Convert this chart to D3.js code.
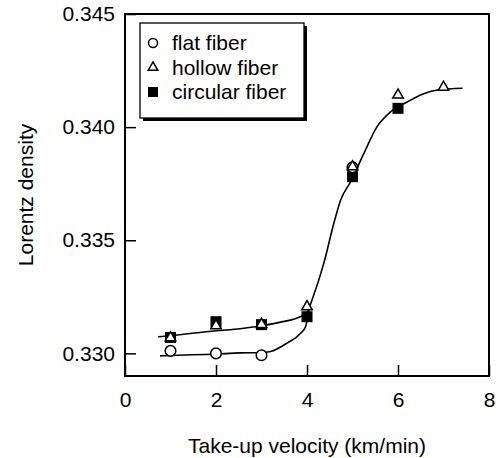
<!DOCTYPE html>
<html>
<head>
<meta charset="utf-8">
<script src="https://cdn.jsdelivr.net/npm/d3@7"></script>
<style>
  body { margin: 0; background: #fff; }
  svg text { font-family: "Liberation Sans", Arial, sans-serif; fill: #000; }
</style>
</head>
<body>
<div id="chart"></div>
<script>

// data
const flatX = [1, 2, 3, 5]
const flatY = [0.33011, 0.33000, 0.32992, 0.33822]
const hollowX = [1, 2, 3, 4, 5, 6, 7]
const hollowY = [0.33069, 0.33122, 0.33128, 0.33206, 0.33825, 0.34142, 0.34176]
const circularX = [1, 2, 3, 4, 5, 6]
const circularY = [0.33070, 0.33140, 0.33127, 0.33162, 0.33781, 0.34083]

// fitted curves (traced)
const upperCurveX = [0.73, 1, 2, 2.53, 3, 3.42, 3.86, 4.0, 4.11, 4.37, 4.59, 4.74, 4.96, 5.25, 5.54, 5.84, 6.21, 6.58, 6.87, 7.42]
const upperCurveY = [0.33073, 0.33078, 0.33100, 0.33109, 0.33122, 0.33138, 0.33163, 0.33180, 0.33236, 0.33399, 0.33575, 0.33678, 0.33759, 0.33884, 0.34002, 0.34068, 0.34112, 0.34149, 0.34164, 0.34172]
const lowerCurveX = [0.77, 2, 2.53, 3, 3.2, 3.56, 3.86, 3.97, 4.05]
const lowerCurveY = [0.32989, 0.32997, 0.33002, 0.33003, 0.33008, 0.33045, 0.33089, 0.33119, 0.33200]

const xTicks = [0, 2, 4, 6, 8]
const yTicks = [0.330, 0.335, 0.340, 0.345]
const legendLabels = ["flat fiber", "hollow fiber", "circular fiber"]

function drawChart() {
  const width = 503
  const height = 458
  const margin = { top: 14, right: 14, bottom: 82, left: 125 }

  const svg = d3.select("#chart")
    .append("svg")
      .attr("width", width)
      .attr("height", height)

  const x = d3.scaleLinear()
    .domain([0, 8])
    .range([margin.left, width - margin.right])

  const y = d3.scaleLinear()
    .domain([0.329, 0.345])
    .range([height - margin.bottom, margin.top])

  // axes, ticks point inward
  svg.append("g")
    .attr("transform", `translate(0,${height - margin.bottom})`)
    .call(d3.axisBottom(x).tickValues(xTicks).tickSizeInner(-11).tickSizeOuter(0).tickPadding(16).tickFormat(d3.format("d")))
    .call(g => g.select(".domain").remove())
    .call(g => g.selectAll("line").attr("stroke", "#000").attr("stroke-width", 1.5))
    .call(g => g.selectAll("text").attr("font-size", 21).attr("font-family", "Liberation Sans, Arial, sans-serif"))

  svg.append("g")
    .attr("transform", `translate(${margin.left},0)`)
    .call(d3.axisLeft(y).tickValues(yTicks).tickSizeInner(-11).tickSizeOuter(0).tickPadding(10).tickFormat(d3.format(".3f")))
    .call(g => g.select(".domain").remove())
    .call(g => g.selectAll("line").attr("stroke", "#000").attr("stroke-width", 1.5))
    .call(g => g.selectAll("text").attr("font-size", 21).attr("font-family", "Liberation Sans, Arial, sans-serif"))

  // frame
  svg.append("rect")
    .attr("x", margin.left)
    .attr("y", margin.top)
    .attr("width", width - margin.left - margin.right)
    .attr("height", height - margin.top - margin.bottom)
    .attr("fill", "none")
    .attr("stroke", "#000")
    .attr("stroke-width", 2)

  // fitted curves
  const line = d3.line()
    .x(d => x(d[0]))
    .y(d => y(d[1]))
    .curve(d3.curveMonotoneX)

  const upper = upperCurveX.map((v, i) => [v, upperCurveY[i]])
  const lower = lowerCurveX.map((v, i) => [v, lowerCurveY[i]])

  svg.append("g")
    .selectAll("path")
    .data([upper, lower])
    .join("path")
      .attr("d", line)
      .attr("fill", "none")
      .attr("stroke", "#000")
      .attr("stroke-width", 1.6)

  // markers
  const squareSize = 11
  svg.append("g")
    .selectAll("rect")
    .data(circularX.map((v, i) => [v, circularY[i]]))
    .join("rect")
      .attr("x", d => x(d[0]) - squareSize / 2)
      .attr("y", d => y(d[1]) - squareSize / 2)
      .attr("width", squareSize)
      .attr("height", squareSize)
      .attr("fill", "#000")

  svg.append("g")
    .selectAll("circle")
    .data(flatX.map((v, i) => [v, flatY[i]]))
    .join("circle")
      .attr("cx", d => x(d[0]))
      .attr("cy", d => y(d[1]))
      .attr("r", 5.3)
      .attr("fill", "#fff")
      .attr("stroke", "#000")
      .attr("stroke-width", 1.5)

  const tri = d3.symbol().type(d3.symbolTriangle).size(48)
  svg.append("g")
    .selectAll("path")
    .data(hollowX.map((v, i) => [v, hollowY[i]]))
    .join("path")
      .attr("d", tri)
      .attr("transform", d => `translate(${x(d[0])},${y(d[1])})`)
      .attr("fill", "#fff")
      .attr("stroke", "#000")
      .attr("stroke-width", 1.5)

  // legend box with shadow
  const lg = svg.append("g")
  lg.append("rect")
    .attr("x", 143).attr("y", 26)
    .attr("width", 164).attr("height", 95)
    .attr("fill", "#000")
  lg.append("rect")
    .attr("x", 140).attr("y", 23)
    .attr("width", 164).attr("height", 95)
    .attr("fill", "#fff")
    .attr("stroke", "#000")
    .attr("stroke-width", 1.3)

  const rowY = d3.scalePoint().domain(legendLabels).range([43, 92])

  lg.append("circle")
    .attr("cx", 153).attr("cy", rowY(legendLabels[0]))
    .attr("r", 4.5)
    .attr("fill", "#fff").attr("stroke", "#000").attr("stroke-width", 1.5)
  lg.append("path")
    .attr("d", d3.symbol().type(d3.symbolTriangle).size(40))
    .attr("transform", `translate(153,${rowY(legendLabels[1])})`)
    .attr("fill", "#fff").attr("stroke", "#000").attr("stroke-width", 1.5)
  lg.append("rect")
    .attr("x", 148).attr("y", rowY(legendLabels[2]) - 5)
    .attr("width", 10).attr("height", 10)
    .attr("fill", "#000")

  lg.selectAll("text")
    .data(legendLabels)
    .join("text")
      .attr("x", 172)
      .attr("y", d => rowY(d))
      .attr("dy", "0.35em")
      .attr("font-size", 21)
      .text(d => d)

  // axis titles
  svg.append("text")
    .attr("x", (margin.left + width - margin.right) / 2)
    .attr("y", 453)
    .attr("text-anchor", "middle")
    .attr("font-size", 21)
    .text("Take-up velocity (km/min)")

  svg.append("text")
    .attr("transform", `translate(33,${(margin.top + height - margin.bottom) / 2}) rotate(-90)`)
    .attr("text-anchor", "middle")
    .attr("font-size", 21)
    .text("Lorentz density")
}

window.onload = function () {
  drawChart()
}
</script>
</body>
</html>
